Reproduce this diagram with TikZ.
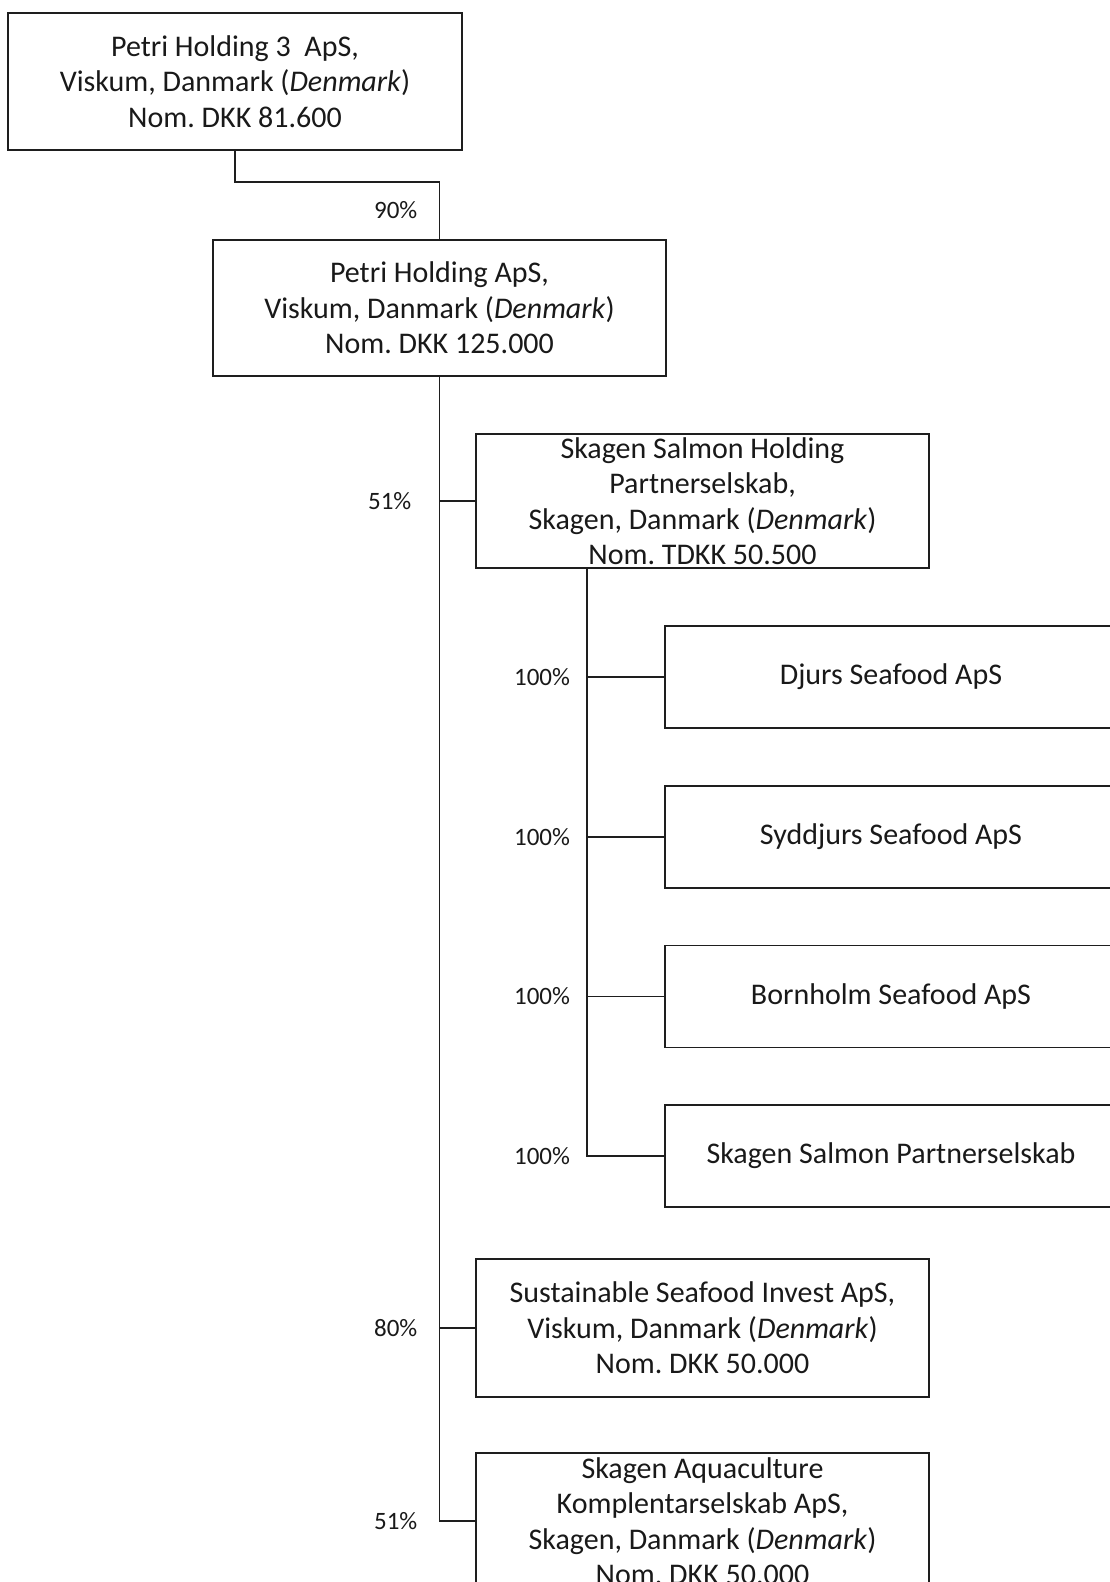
\documentclass[tikz,border=0pt]{standalone}
\usepackage{fontspec}
\setmainfont{Carlito}
\usepackage{tikz}
\usetikzlibrary{positioning}
\definecolor{linecolor}{RGB}{30, 30, 30}
\frenchspacing

\begin{document}
\begin{tikzpicture}[
    x=1pt, y=-1pt,
    node distance=56pt,
    font=\fontsize{30}{35.5}\selectfont,
    box/.style={draw=linecolor, line width=1.7pt, minimum width=453pt, minimum height=136pt, align=center, inner sep=0pt, text=black!90},
    subbox/.style={box, minimum width=452pt, minimum height=102pt},
    link/.style={draw=linecolor, line width=1.7pt},
    pct/.style={left=18pt, font=\fontsize{25}{30}\selectfont, text=black!90}
]
    \useasboundingbox (0,0) rectangle (1109,1582);

    % owners
    \node[box, minimum width=454pt, minimum height=137pt] (holding3) at (235,81.5) {Petri Holding 3 \ ApS,\\Viskum, Danmark (\textit{Denmark})\\Nom. DKK 81.600};
    \node[box] (holding) at (439.5,308) {Petri Holding ApS,\\Viskum, Danmark (\textit{Denmark})\\Nom. DKK 125.000};

    % subsidiaries of Petri Holding
    \node[box, minimum height=134pt] (salmonholding) at (702.5,501) {Skagen Salmon Holding\\Partnerselskab,\\Skagen, Danmark (\textit{Denmark})\\Nom. TDKK 50.500};
    \node[box, minimum height=138pt] (invest) at (702.5,1328) {Sustainable Seafood Invest ApS,\\Viskum, Danmark (\textit{Denmark})\\Nom. DKK 50.000};
    \node[box] (aqua) at (702.5,1521) {Skagen Aquaculture\\Komplentarselskab ApS,\\Skagen, Danmark (\textit{Denmark})\\Nom. DKK 50.000};

    % subsidiaries of Skagen Salmon Holding
    \node[subbox] (djurs) at (891,677) {Djurs Seafood ApS};
    \node[subbox, below=of djurs] (syddjurs) {Syddjurs Seafood ApS};
    \node[subbox, below=of syddjurs] (bornholm) {Bornholm Seafood ApS};
    \node[subbox, below=of bornholm] (salmon) {Skagen Salmon Partnerselskab};

    % ownership lines
    \draw[link] (holding3.south) -- ++(0,31) -| node[pos=0.75, pct] {90\%} (holding.north);
    \draw[link] (holding.south) |- node[pos=0.5, pct] {51\%} (aqua.west);
    \draw[link] (holding.south |- salmonholding.west) -- node[pos=0, pct, left=24pt] {51\%} (salmonholding.west);
    \draw[link] (holding.south |- invest.west) -- node[pos=0, pct] {80\%} (invest.west);

    \coordinate (subtrunk) at ([xshift=112pt]salmonholding.south west);
    \draw[link] (subtrunk) |- node[pos=0.5, pct, left=13pt] {100\%} (salmon.west);
    \foreach \sub in {djurs, syddjurs, bornholm}
        \draw[link] (subtrunk |- \sub.west) -- node[pos=0, pct, left=13pt] {100\%} (\sub.west);
\end{tikzpicture}
\end{document}
